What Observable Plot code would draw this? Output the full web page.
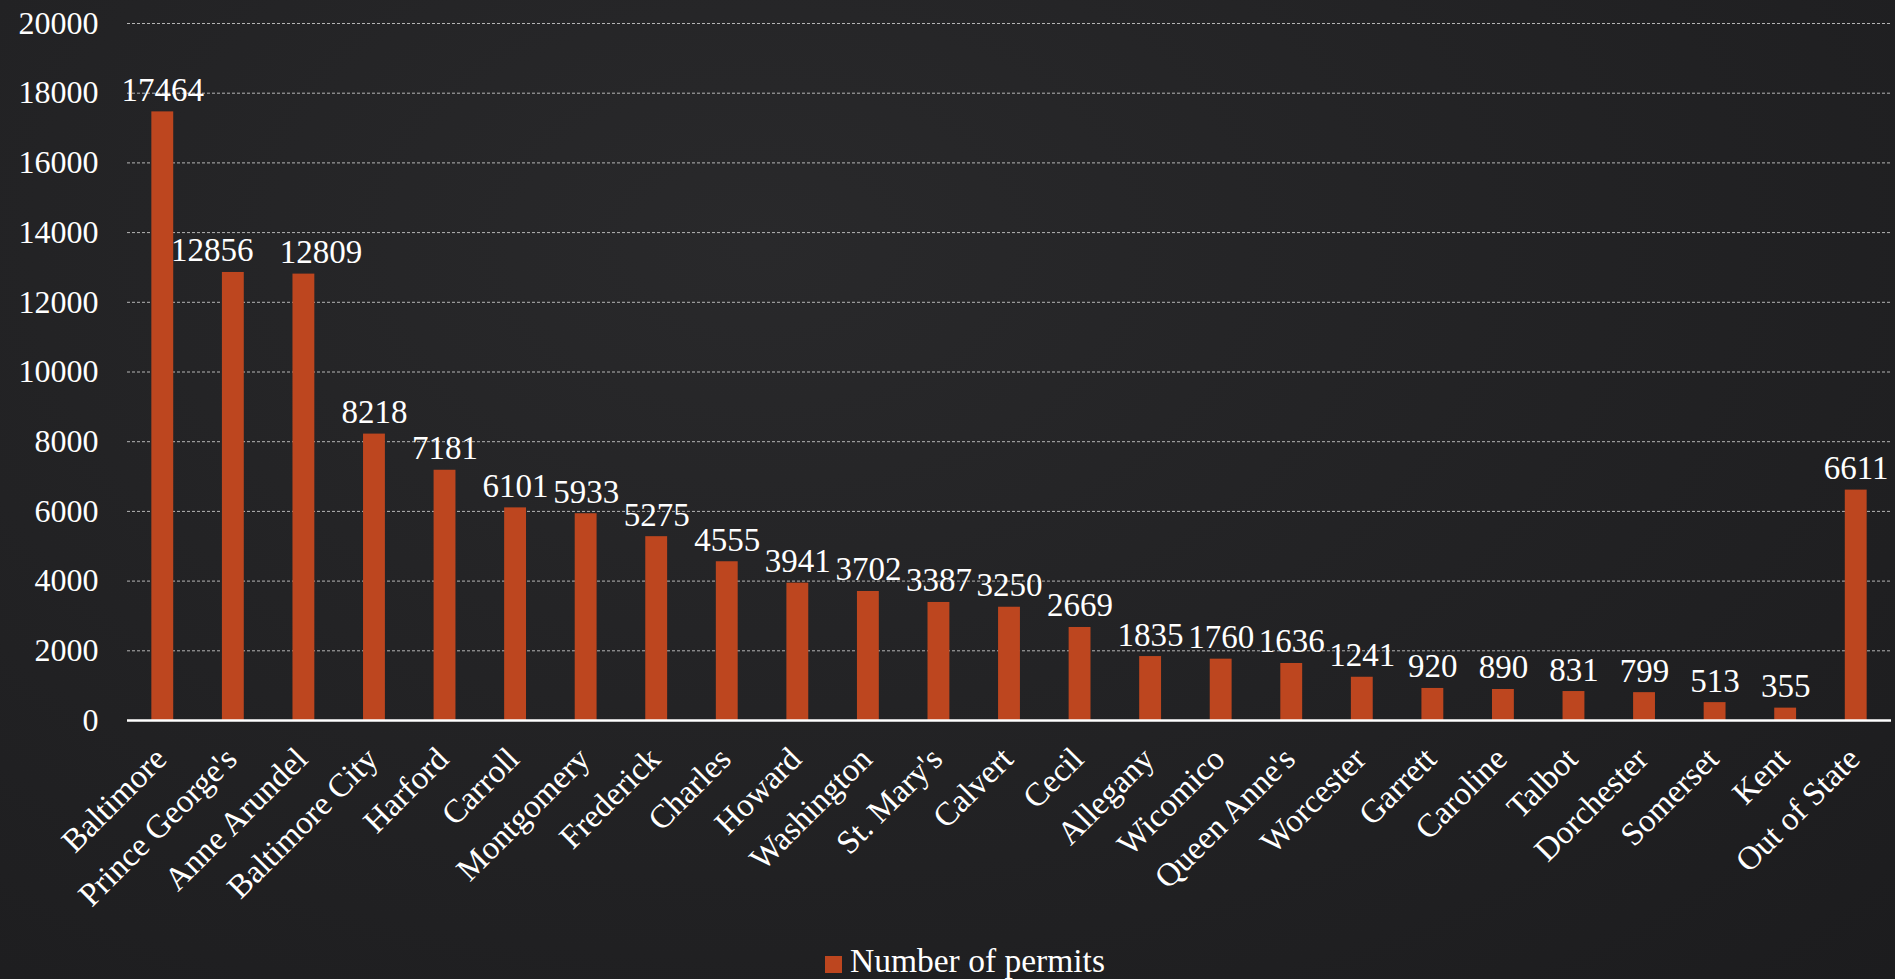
<!DOCTYPE html>
<html>
<head>
<meta charset="utf-8">
<script src="https://cdn.jsdelivr.net/npm/d3@7"></script>
<script src="https://cdn.jsdelivr.net/npm/@observablehq/plot@0.6"></script>
<style>
  html, body { margin: 0; padding: 0; width: 1895px; height: 979px; overflow: hidden; }
  body {
    background: radial-gradient(ellipse at 40% 25%, #29292b 0%, #232325 45%, #1c1c1e 100%);
    font-family: "Liberation Serif", "DejaVu Serif", serif;
    color: #ffffff;
    position: relative;
  }
  #chart { position: absolute; left: 0; top: 0; }
  #legend {
    position: absolute; left: 825px; top: 942px;
    display: flex; align-items: center;
    font-size: 33.5px; color: #ffffff; white-space: nowrap;
  }
  #legend .sw { display: inline-block; width: 17px; height: 17px; background: #bd461f; margin-right: 8px; margin-top: 6px; }
</style>
</head>
<body>
<div id="chart"></div>
<div id="legend"><span class="sw"></span><span>Number of permits</span></div>
<script>
const categories = ["Baltimore", "Prince George's", "Anne Arundel", "Baltimore City", "Harford", "Carroll", "Montgomery", "Frederick", "Charles", "Howard", "Washington", "St. Mary's", "Calvert", "Cecil", "Allegany", "Wicomico", "Queen Anne's", "Worcester", "Garrett", "Caroline", "Talbot", "Dorchester", "Somerset", "Kent", "Out of State"];
const permits = [17464, 12856, 12809, 8218, 7181, 6101, 5933, 5275, 4555, 3941, 3702, 3387, 3250, 2669, 1835, 1760, 1636, 1241, 920, 890, 831, 799, 513, 355, 6611];
const yTicks = [0, 2000, 4000, 6000, 8000, 10000, 12000, 14000, 16000, 18000, 20000];
const seriesName = "Number of permits";

const data = categories.map((c, i) => ({county: c, value: permits[i]}));
const barColor = "#bd461f";
const labelOpts = {x: "county", y: "value", text: d => String(d.value), dy: -11, lineAnchor: "bottom", fill: "#ffffff", fontSize: 33};

const chart = Plot.plot({
  width: 1895,
  height: 940,
  marginLeft: 127,
  marginRight: 4,
  marginTop: 23,
  marginBottom: 220,
  style: {background: "transparent", color: "#ffffff", fontFamily: "'Liberation Serif', 'DejaVu Serif', serif", fontSize: "32px", overflow: "visible"},
  x: {domain: categories, paddingInner: 0.69, paddingOuter: 0.345, round: false, label: null, axis: null},
  y: {domain: [0, 20000], label: null, axis: null},
  marks: [
    Plot.gridY(yTicks.filter(d => d > 0), {stroke: "#cfcfcf", strokeOpacity: 0.85, strokeDasharray: "3,2", strokeWidth: 1}),
    Plot.barY(data, {x: "county", y: "value", fill: barColor}),
    Plot.ruleY([0], {stroke: "#ffffff", strokeWidth: 2.5}),
    // value labels: two neighbours are nudged apart as in the reference
    Plot.text(data.filter((d, i) => i !== 1 && i !== 2), labelOpts),
    Plot.text(data.filter((d, i) => i === 1), {...labelOpts, dx: -21}),
    Plot.text(data.filter((d, i) => i === 2), {...labelOpts, dx: 17}),
    Plot.axisY(yTicks, {tickSize: 0, tickPadding: 29, fontSize: 32, label: null, tickFormat: d => String(d)}),
    Plot.axisX({tickRotate: -45, tickSize: 0, tickPadding: 33, dx: -2, fontSize: 33, label: null})
  ]
});
document.getElementById("chart").appendChild(chart);
</script>
</body>
</html>
